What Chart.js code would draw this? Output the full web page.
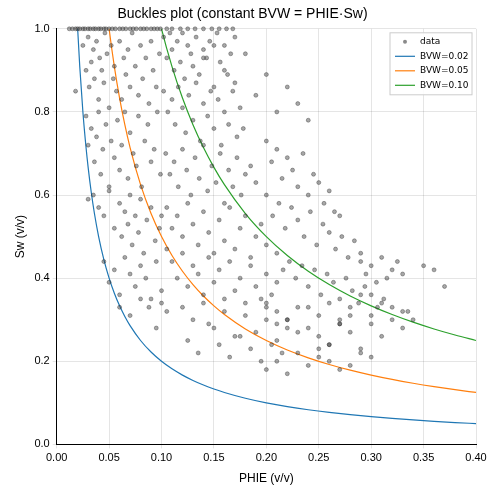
<!DOCTYPE html>
<html><head><meta charset="utf-8">
<script src="https://cdn.jsdelivr.net/npm/chart.js@4/dist/chart.umd.min.js"></script>
<style>body{margin:0;background:#fff}#wrap{width:498px;height:492px}</style>
</head><body><div id="wrap"><canvas id="c"></canvas></div>
<script>
// scatter samples: PHIE, Sw pairs
const phie = [
0.012,0.015,0.018,0.02,0.022,0.025,0.027,0.03,0.032,0.035,0.037,0.04,0.042,0.045,0.047,0.05,0.053,0.056,0.06,0.063,0.066,0.07,0.073,0.076,0.08,0.083,0.086,0.09,0.093,0.096,0.099,
0.018,0.025,0.028,0.03,0.031,0.033,0.035,0.036,0.038,0.04,0.041,0.043,0.045,0.046,0.048,0.05,0.052,0.054,0.055,0.057,0.06,0.062,0.064,0.066,0.068,0.07,0.072,0.075,0.078,0.08,0.082,0.085,0.088,0.09,0.092,0.095,0.098,
0.028,0.03,0.033,0.036,0.038,0.04,0.042,0.044,0.047,0.05,0.052,0.055,0.058,0.06,0.062,0.065,0.068,0.07,0.073,0.076,0.078,0.081,0.084,0.087,0.09,0.093,0.096,0.099,
0.03,0.035,0.04,0.045,0.05,0.055,0.06,0.062,0.065,0.068,0.07,0.072,0.075,0.078,0.08,0.083,0.086,0.09,0.094,0.098,0.1,0.105,
0.045,0.05,0.055,0.06,0.065,0.07,0.075,0.08,0.085,0.09,0.095,0.1,0.06,0.07,0.08,0.088,0.095,0.1,0.105,
0.102,0.105,0.108,0.11,0.112,0.115,0.118,0.12,0.122,0.125,0.128,0.13,0.133,0.136,0.14,0.143,0.146,0.15,0.153,0.156,0.16,0.163,0.166,0.17,
0.102,0.106,0.11,0.113,0.116,0.12,0.123,0.126,0.13,0.133,0.137,0.14,0.144,0.147,0.15,0.154,0.157,0.16,0.164,0.168,0.172,0.175,0.178,
0.104,0.108,0.112,0.116,0.12,0.124,0.128,0.132,0.136,0.14,0.144,0.148,0.152,0.156,0.16,0.164,0.168,0.172,0.176,0.18,0.185,0.19,
0.105,0.11,0.115,0.12,0.125,0.13,0.135,0.14,0.145,0.15,0.155,0.16,0.165,0.17,0.175,0.18,0.185,0.19,0.195,0.2,
0.11,0.115,0.12,0.125,0.13,0.135,0.14,0.145,0.15,0.155,0.16,0.165,0.17,0.175,0.18,0.185,0.19,0.195,0.2,0.205,0.21,
0.12,0.13,0.14,0.15,0.16,0.17,0.18,0.19,0.2,0.21,0.22,0.125,0.135,0.145,0.155,0.165,0.175,0.185,0.195,0.205,0.215,
0.14,0.15,0.16,0.17,0.18,0.19,0.2,0.21,0.22,0.23,0.24,
0.2,0.205,0.21,0.215,0.22,0.225,0.23,0.235,0.24,0.245,0.25,0.255,0.26,0.265,0.27,
0.2,0.206,0.212,0.218,0.224,0.23,0.236,0.242,0.248,0.254,0.26,0.266,0.272,0.278,0.284,0.29,
0.21,0.216,0.222,0.228,0.234,0.24,0.246,0.252,0.258,0.264,0.27,0.276,0.282,0.288,0.294,0.3,0.306,0.312,
0.2,0.21,0.22,0.23,0.24,0.25,0.26,0.27,0.28,0.29,0.3,0.31,0.32,0.33,0.34,0.35,0.36,0.37,
0.25,0.26,0.27,0.28,0.29,0.3,0.31,0.32,0.33,0.335,0.29,0.295,0.3,0.305,0.31,0.315,0.32,0.325,0.33,
0.2,0.21,0.22,0.23,0.24,0.25,0.26,0.27,0.28,0.29,0.3,0.21,0.23,0.25,0.27,0.2,0.22,0.24,0.26,0.28,
0.105,0.11,0.118,0.125,0.132,0.14,0.148,0.155,0.162,0.168
];
const sw = [
1,1,1,1,1,1,1,1,1,1,1,1,1,1,1,1,1,1,1,1,1,1,1,1,1,1,1,1,1,1,1,
0.85,0.96,0.9,0.98,0.86,0.92,0.95,0.88,0.97,0.83,0.93,0.9,0.87,0.99,0.94,0.81,0.96,0.88,0.91,0.85,0.97,0.83,0.93,0.89,0.95,0.86,0.99,0.91,0.84,0.96,0.88,0.93,0.82,0.97,0.9,0.86,0.94,
0.79,0.72,0.76,0.68,0.74,0.8,0.65,0.71,0.77,0.62,0.73,0.69,0.78,0.66,0.72,0.8,0.64,0.75,0.7,0.67,0.79,0.62,0.73,0.77,0.68,0.71,0.8,0.65,
0.59,0.6,0.57,0.55,0.61,0.52,0.58,0.5,0.56,0.53,0.6,0.48,0.55,0.51,0.59,0.46,0.54,0.57,0.49,0.52,0.55,0.47,
0.44,0.39,0.42,0.36,0.45,0.41,0.38,0.43,0.4,0.35,0.44,0.37,0.33,0.31,0.35,0.33,0.28,0.34,0.32,
0.98,0.93,0.99,0.95,0.9,0.97,0.92,0.99,0.88,0.96,0.94,0.91,0.98,0.89,0.95,0.93,0.97,0.86,0.99,0.92,0.96,0.89,0.94,0.98,
0.85,0.8,0.83,0.77,0.86,0.81,0.75,0.84,0.78,0.87,0.73,0.82,0.79,0.85,0.76,0.83,0.72,0.8,0.77,0.85,0.74,0.81,0.76,
0.7,0.65,0.68,0.62,0.71,0.66,0.6,0.69,0.64,0.72,0.61,0.67,0.63,0.7,0.58,0.66,0.62,0.69,0.6,0.65,0.67,0.63,
0.57,0.52,0.55,0.5,0.58,0.53,0.48,0.56,0.51,0.46,0.54,0.49,0.57,0.47,0.52,0.55,0.45,0.5,0.53,0.48,
0.44,0.4,0.46,0.38,0.43,0.41,0.36,0.45,0.39,0.42,0.35,0.44,0.37,0.4,0.34,0.43,0.38,0.35,0.41,0.36,0.39,
0.33,0.3,0.34,0.28,0.32,0.26,0.31,0.27,0.33,0.29,0.3,0.25,0.22,0.29,0.24,0.21,0.26,0.23,0.2,0.24,0.22,
0.93,0.96,0.9,0.87,0.94,0.84,0.89,0.8,0.86,0.82,0.78,
0.73,0.68,0.71,0.64,0.69,0.66,0.62,0.7,0.6,0.65,0.63,0.58,0.61,0.56,0.55,
0.6,0.55,0.58,0.52,0.57,0.54,0.5,0.56,0.48,0.53,0.51,0.47,0.5,0.45,0.49,0.46,
0.46,0.42,0.44,0.4,0.43,0.38,0.42,0.36,0.41,0.39,0.35,0.4,0.37,0.34,0.38,0.36,0.33,0.35,
0.34,0.32,0.3,0.33,0.28,0.31,0.34,0.3,0.33,0.36,0.31,0.34,0.33,0.32,0.3,0.43,0.42,0.38,
0.26,0.24,0.29,0.27,0.23,0.29,0.26,0.3,0.28,0.32,0.44,0.41,0.43,0.39,0.45,0.4,0.42,0.44,0.41,
0.18,0.2,0.17,0.22,0.19,0.21,0.2,0.18,0.19,0.22,0.21,0.25,0.27,0.23,0.29,0.3,0.28,0.33,0.24,0.31,
1,1,1,1,1,1,1,1,1,1
];
const bvwLevels = [0.02, 0.05, 0.10];
const bvwColors = ['#1f77b4', '#ff7f0e', '#2ca02c'];
const phieGrid = [0.01,0.012,0.014,0.016,0.018,0.02,0.022,0.025,0.028,0.03,0.033,0.036,0.04,0.045,0.05,0.055,0.06,0.065,0.07,0.08,0.09,0.1,0.11,0.12,0.13,0.14,0.15,0.16,0.18,0.2,0.22,0.24,0.26,0.28,0.3,0.32,0.34,0.36,0.38,0.4];

const datasets = [{
  label: 'data', type: 'scatter',
  data: phie.map((x, i) => ({x: x, y: sw[i]})),
  backgroundColor: 'rgba(60,60,60,0.45)', borderColor: 'rgba(40,40,40,0.6)', borderWidth: 0.6,
  pointRadius: 2, clip: 3
}];
bvwLevels.forEach((b, i) => {
  datasets.push({
    label: 'BVW=' + b.toFixed(2), type: 'line',
    data: phieGrid.map(x => ({x: x, y: b / x})),
    borderColor: bvwColors[i], backgroundColor: bvwColors[i], borderWidth: 1.2,
    pointRadius: 0, tension: 0.4, cubicInterpolationMode: 'monotone'
  });
});

const grid = {color: 'rgba(0,0,0,0.1)', drawTicks: true, tickLength: 4};
new Chart(document.getElementById('c'), {
  type: 'scatter',
  data: {datasets: datasets},
  options: {
    responsive: true, maintainAspectRatio: false, animation: false,
    layout: {padding: {left: 9, right: 22, top: 2, bottom: 2}},
    scales: {
      x: {type: 'linear', min: 0, max: 0.4, grid: grid, border: {color: '#000'},
        ticks: {stepSize: 0.05, color: '#000', font: {size: 11}, callback: v => v.toFixed(2)},
        title: {display: true, text: 'PHIE (v/v)', color: '#000', font: {size: 12}}},
      y: {min: 0, max: 1, grid: grid, border: {color: '#000'},
        ticks: {stepSize: 0.2, color: '#000', font: {size: 11}, callback: v => v.toFixed(1)},
        title: {display: true, text: 'Sw (v/v)', color: '#000', font: {size: 12}}}
    },
    plugins: {
      title: {display: true, text: 'Buckles plot (constant BVW = PHIE·Sw)', color: '#000', font: {size: 14, weight: 'normal'}, padding: {top: 4, bottom: 6}},
      legend: {display: false}
    }
  },
  plugins: [{
    id: 'boxLegend',
    afterDraw(chart) {
      const ctx = chart.ctx, a = chart.chartArea;
      const w = 82, h = 62, x0 = a.right - w - 4, y0 = a.top + 4;
      ctx.save();
      ctx.fillStyle = 'rgba(255,255,255,0.85)'; ctx.strokeStyle = '#ccc';
      ctx.fillRect(x0, y0, w, h); ctx.strokeRect(x0, y0, w, h);
      ctx.font = '9px DejaVu Sans'; ctx.textBaseline = 'middle'; ctx.fillStyle = '#000';
      chart.data.datasets.forEach((d, i) => {
        const y = y0 + 9 + i * 14.5;
        if (i === 0) {
          ctx.beginPath(); ctx.arc(x0 + 15, y, 2, 0, Math.PI * 2);
          ctx.fillStyle = 'rgba(60,60,60,0.6)'; ctx.fill(); ctx.fillStyle = '#000';
        } else {
          ctx.strokeStyle = d.borderColor; ctx.lineWidth = 1.2;
          ctx.beginPath(); ctx.moveTo(x0 + 5, y); ctx.lineTo(x0 + 25, y); ctx.stroke();
        }
        ctx.fillText(d.label, x0 + 30, y);
      });
      ctx.restore();
    }
  }]
});
</script></body></html>
